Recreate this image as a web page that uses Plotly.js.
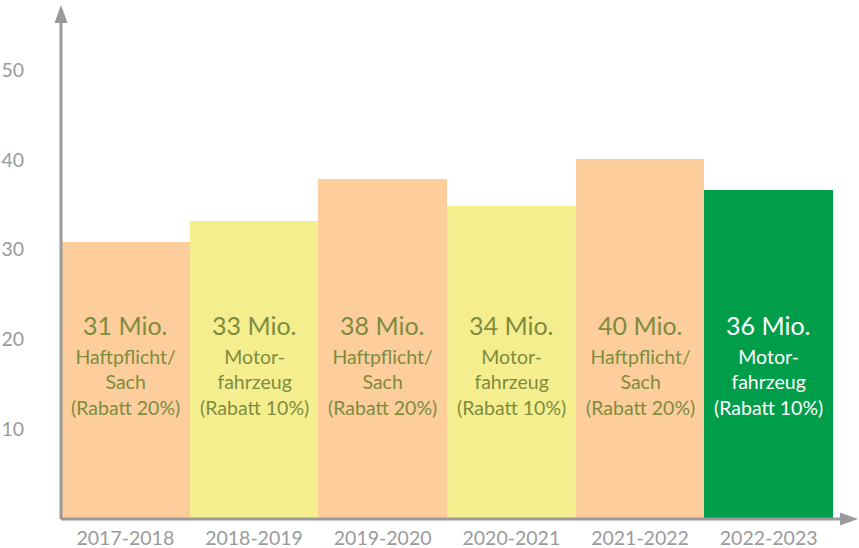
<!DOCTYPE html>
<html>
<head>
<meta charset="utf-8">
<script src="https://cdn.plot.ly/plotly-3.0.1.min.js"></script>
<style>html,body{margin:0;padding:0;background:#fff;}#chart{width:859px;height:548px;}</style>
</head>
<body>
<div id="chart"></div>
<script>
const categories = ["2017-2018", "2018-2019", "2019-2020", "2020-2021", "2021-2022", "2022-2023"];
const values = [30.9, 33.2, 37.9, 34.9, 40.1, 36.6];
const valueLabels = ["31 Mio.", "33 Mio.", "38 Mio.", "34 Mio.", "40 Mio.", "36 Mio."];
const descriptions = [
  "Haftpflicht/<br>Sach<br>(Rabatt 20%)",
  "Motor-<br>fahrzeug<br>(Rabatt 10%)",
  "Haftpflicht/<br>Sach<br>(Rabatt 20%)",
  "Motor-<br>fahrzeug<br>(Rabatt 10%)",
  "Haftpflicht/<br>Sach<br>(Rabatt 20%)",
  "Motor-<br>fahrzeug<br>(Rabatt 10%)"
];
const yTicks = [10, 20, 30, 40, 50];

const barColors = ["#FDCE9C", "#F5EE8F", "#FDCE9C", "#F5EE8F", "#FDCE9C", "#009E4A"];
const textColors = ["#7E8C3E", "#7E8C3E", "#7E8C3E", "#7E8C3E", "#7E8C3E", "#FFFFFF"];
const FONT = "Lato, 'Open Sans', sans-serif";
const AXIS = "#9A9A9C";

const trace = {
  type: "bar",
  x: categories,
  y: values,
  marker: { color: barColors, line: { width: 0 } },
  hoverinfo: "skip"
};

const annotations = [];
categories.forEach((c, i) => {
  annotations.push({
    x: c, y: 21.6, xref: "x", yref: "y",
    text: valueLabels[i], showarrow: false,
    font: { family: FONT, size: 25, color: textColors[i] },
    xanchor: "center", yanchor: "middle"
  });
  annotations.push({
    x: c, y: 15.25, xref: "x", yref: "y",
    text: descriptions[i], showarrow: false,
    font: { family: FONT, size: 19.5, color: textColors[i] },
    xanchor: "center", yanchor: "middle"
  });
});

const shapes = [
  { type: "line", xref: "paper", yref: "paper", x0: 0, x1: 0, y0: 0, y1: 0.97,
    line: { color: AXIS, width: 3 } },
  { type: "line", xref: "paper", yref: "paper", x0: 0, x1: 1.025, y0: 0, y1: 0,
    line: { color: AXIS, width: 3 } },
  { type: "path", xref: "paper", yref: "paper", xsizemode: "pixel", ysizemode: "pixel",
    xanchor: 0, yanchor: 1, path: "M -6.5 -18 L 6.5 -18 L 0 0 Z",
    fillcolor: AXIS, line: { width: 0 } },
  { type: "path", xref: "paper", yref: "paper", xsizemode: "pixel", ysizemode: "pixel",
    xanchor: 1, yanchor: 0, path: "M 7 6.5 L 7 -6.5 L 25 0 Z",
    fillcolor: AXIS, line: { width: 0 } }
];

const layout = {
  width: 859, height: 548,
  margin: { l: 61, r: 26, t: 5, b: 29, pad: 0 },
  paper_bgcolor: "#ffffff", plot_bgcolor: "#ffffff",
  bargap: 0,
  showlegend: false,
  font: { family: FONT, color: AXIS },
  xaxis: {
    type: "category", range: [-0.5, 5.5], showgrid: false, zeroline: false,
    showline: false, ticks: "outside", ticklen: 2, tickcolor: "rgba(0,0,0,0)",
    tickfont: { family: FONT, size: 19.5, color: AXIS }, fixedrange: true
  },
  yaxis: {
    range: [0, 57.24], tickvals: yTicks, ticktext: yTicks.map(String),
    showgrid: false, zeroline: false, showline: false,
    ticks: "outside", ticklen: 32, tickcolor: "rgba(0,0,0,0)",
    tickfont: { family: FONT, size: 19.5, color: AXIS }, fixedrange: true
  },
  shapes: shapes,
  annotations: annotations
};

Plotly.newPlot("chart", [trace], layout, { displayModeBar: false, staticPlot: true });
</script>
</body>
</html>
